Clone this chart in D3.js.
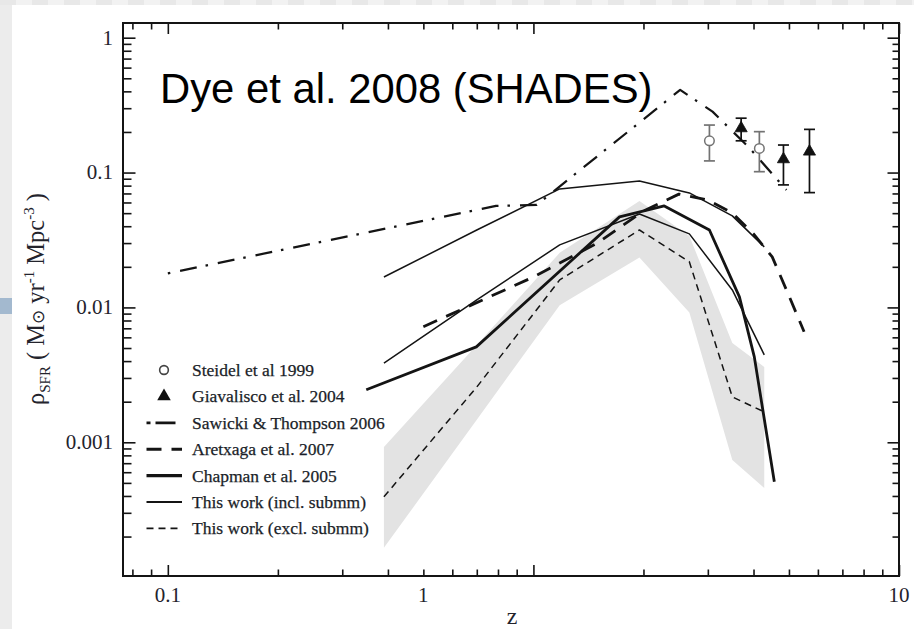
<!DOCTYPE html>
<html>
<head>
<meta charset="utf-8">
<script src="https://cdn.jsdelivr.net/npm/d3@7"></script>
<style>
  body { margin: 0; background: #fff; }
  svg { display: block; }
</style>
</head>
<body>
<svg id="chart" width="914" height="629"></svg>
<script>
// Cosmic star-formation-rate density against redshift (SHADES).

// Steidel et al. 1999 (open circles, with error bars)
const zSteidel       = [3.03, 4.15];
const sfrSteidel     = [0.172, 0.151];
const sfrSteidelHi   = [0.225, 0.201];
const sfrSteidelLo   = [0.122, 0.1015];

// Giavalisco et al. 2004 (filled triangles, with error bars)
const zGiavalisco     = [3.70, 4.83, 5.69];
const sfrGiavalisco   = [0.213, 0.1255, 0.143];
const sfrGiavaliscoHi = [0.253, 0.160, 0.209];
const sfrGiavaliscoLo = [0.172, 0.081, 0.071];

// Sawicki & Thompson 2006
const zSawicki   = [0.1, 0.79, 1.02, 2.52, 3.09, 3.90, 4.92];
const sfrSawicki = [0.0179, 0.0566, 0.0575, 0.410, 0.283, 0.152, 0.0743];

// Aretxaga et al. 2007
const zAretxaga   = [0.5, 1, 1.5, 2, 2.5, 3, 3.5, 4, 4.5, 5, 5.5];
const sfrAretxaga = [0.0072, 0.0168, 0.0301, 0.0519, 0.0692, 0.0626, 0.0502, 0.0351, 0.0237, 0.0122, 0.0066];

// Chapman et al. 2005
const zChapman   = [0.349, 0.698, 1.72, 2.28, 3.03, 3.66, 4.02, 4.56];
const sfrChapman = [0.00245, 0.0051, 0.0469, 0.0566, 0.0375, 0.01196, 0.0043, 0.00051];

// This work: redshift bins
const zThisWork     = [0.39, 0.70, 1.18, 1.95, 2.67, 3.50, 4.28];
const sfrInclHigh   = [0.0168, 0.0375, 0.0756, 0.0866, 0.0706, 0.0477, 0.0281];
const sfrInclLow    = [0.00386, 0.01137, 0.0291, 0.0493, 0.0351, 0.01348, 0.00445];
const sfrExcl       = [0.000394, 0.00257, 0.0160, 0.0375, 0.0218, 0.00217, 0.00168];
const sfrExclUpper  = [0.000924, 0.00527, 0.0254, 0.0616, 0.0339, 0.00545, 0.00362];
const sfrExclLower  = [0.000165, 0.00147, 0.0104, 0.0235, 0.00918, 0.00074, 0.000459];

// Axis labels
const yTickValues   = [1, 0.1, 0.01, 0.001];
const yTickText     = ["1", "0.1", "0.01", "0.001"];
const xTickLabelAt  = [0.1, 0.5, 10];
const xTickText     = ["0.1", "1", "10"];

const legendLabels = [
  "Steidel et al 1999",
  "Giavalisco et al. 2004",
  "Sawicki & Thompson 2006",
  "Aretxaga et al. 2007",
  "Chapman et al. 2005",
  "This work (incl. submm)",
  "This work (excl. submm)"
];
const titleText = "Dye et al. 2008 (SHADES)";

// ---------------------------------------------------------------
const svg = d3.select("#chart");
const W = 914, H = 629;
const plot = { left: 123, right: 899, top: 23, bottom: 576 };
const ink = "#141414";
const serif = "'Liberation Serif','Times New Roman',serif";

const x = d3.scaleLog().domain([0.0754, 10]).range([plot.left, plot.right]);
const y = d3.scaleLog().domain([1.02e-4, 1.285]).range([plot.bottom, plot.top]);

// page surround
svg.append("rect").attr("width", W).attr("height", H).attr("fill", "#fff");
svg.append("rect").attr("x", 0).attr("y", 0).attr("width", 12).attr("height", H).attr("fill", "#ececec");
svg.append("g").selectAll("rect").data(d3.range(0, W, 16)).join("rect")
  .attr("x", d => d).attr("y", 0).attr("width", 16).attr("height", 5)
  .attr("fill", (d, i) => i % 2 ? "#f2f2f2" : "#e8e8e8");
svg.append("rect").attr("x", 0).attr("y", 298).attr("width", 12).attr("height", 16).attr("fill", "#a3b9cf");

// clip for data marks
svg.append("clipPath").attr("id", "plotClip").append("rect")
  .attr("x", plot.left).attr("y", plot.top)
  .attr("width", plot.right - plot.left).attr("height", plot.bottom - plot.top);
const data = svg.append("g").attr("clip-path", "url(#plotClip)");

const zip = (zs, vs) => zs.map((z, i) => [z, vs[i]]);
const line = d3.line().x(d => x(d[0])).y(d => y(d[1]));

// uncertainty band of the excl. submm estimate
const band = zThisWork.map((z, i) => ({ z, lo: sfrExclLower[i], hi: sfrExclUpper[i] }));
data.append("path")
  .attr("d", d3.area().x(d => x(d.z)).y0(d => y(d.lo)).y1(d => y(d.hi))(band))
  .attr("fill", "#e3e3e3");

const styles = {
  sawicki:  { w: 2.2, dash: "2.5,10,17,9" },
  aretxaga: { w: 2.8, dash: "15,10" },
  chapman:  { w: 2.8, dash: null },
  incl:     { w: 1.5, dash: null },
  excl:     { w: 1.5, dash: "7,5" }
};

const series = [
  { key: "excl",     pts: zip(zThisWork, sfrExcl) },
  { key: "incl",     pts: zip(zThisWork, sfrInclLow) },
  { key: "incl",     pts: zip(zThisWork, sfrInclHigh) },
  { key: "chapman",  pts: zip(zChapman, sfrChapman) },
  { key: "aretxaga", pts: zip(zAretxaga, sfrAretxaga) },
  { key: "sawicki",  pts: zip(zSawicki, sfrSawicki) }
];

data.selectAll("path.series").data(series).join("path")
  .attr("class", "series")
  .attr("d", d => line(d.pts))
  .attr("fill", "none")
  .attr("stroke", ink)
  .attr("stroke-width", d => styles[d.key].w)
  .attr("stroke-dasharray", d => styles[d.key].dash)
  .attr("stroke-linejoin", "round");

// error-bar points
function errorPoints(zs, v, hi, lo, color, symbolType, filled) {
  const pts = zs.map((z, i) => ({ z, v: v[i], hi: hi[i], lo: lo[i] }));
  const g = data.append("g");
  const capW = 5.5;
  g.selectAll("line.bar").data(pts).join("line")
    .attr("x1", d => x(d.z)).attr("x2", d => x(d.z))
    .attr("y1", d => y(d.hi)).attr("y2", d => y(d.lo))
    .attr("stroke", color).attr("stroke-width", 1.7);
  g.selectAll("line.capH").data(pts).join("line")
    .attr("x1", d => x(d.z) - capW).attr("x2", d => x(d.z) + capW)
    .attr("y1", d => y(d.hi)).attr("y2", d => y(d.hi))
    .attr("stroke", color).attr("stroke-width", 1.7);
  g.selectAll("line.capL").data(pts).join("line")
    .attr("x1", d => x(d.z) - capW).attr("x2", d => x(d.z) + capW)
    .attr("y1", d => y(d.lo)).attr("y2", d => y(d.lo))
    .attr("stroke", color).attr("stroke-width", 1.7);
  g.selectAll("path.sym").data(pts).join("path")
    .attr("transform", d => `translate(${x(d.z)},${y(d.v)})`)
    .attr("d", d3.symbol().type(symbolType).size(symbolType === d3.symbolCircle ? 72 : 64))
    .attr("fill", filled ? color : "#fff")
    .attr("stroke", color).attr("stroke-width", filled ? 0.8 : 1.5);
}
errorPoints(zSteidel, sfrSteidel, sfrSteidelHi, sfrSteidelLo, "#737373", d3.symbolCircle, false);
errorPoints(zGiavalisco, sfrGiavalisco, sfrGiavaliscoHi, sfrGiavaliscoLo, "#111", d3.symbolTriangle, true);

// ---------------------------------------------------------------
// axes: inward ticks on all four sides, major at each decade
const isMajor = v => Math.abs(Math.log10(v) - Math.round(Math.log10(v))) < 1e-9;
const xTicks = x.ticks();
const yTicks = y.ticks();

function tickSide(axisGen, ticks, translate, setEnd) {
  const g = svg.append("g").attr("transform", translate)
    .call(axisGen.tickValues(ticks).tickFormat("").tickSizeOuter(0));
  g.select(".domain").remove();
  g.selectAll(".tick text").remove();
  g.selectAll(".tick line").attr("stroke", ink).attr("stroke-width", 1.6).each(function (d) {
    setEnd(d3.select(this), isMajor(d));
  });
}
tickSide(d3.axisBottom(x), xTicks, `translate(0,${plot.bottom})`,
  (l, M) => l.attr("y2", -(M ? 11 : 6.5)));
tickSide(d3.axisTop(x), xTicks, `translate(0,${plot.top})`,
  (l, M) => l.attr("y2", M ? 11 : 6.5));
tickSide(d3.axisLeft(y), yTicks, `translate(${plot.left},0)`,
  (l, M) => l.attr("x2", M ? 12.5 : 8.5));
tickSide(d3.axisRight(y), yTicks, `translate(${plot.right},0)`,
  (l, M) => l.attr("x2", -(M ? 11.5 : 6.5)));

svg.append("rect")
  .attr("x", plot.left).attr("y", plot.top)
  .attr("width", plot.right - plot.left).attr("height", plot.bottom - plot.top)
  .attr("fill", "none").attr("stroke", ink).attr("stroke-width", 2);

// tick labels
const labelColor = "#23232c";
svg.append("g").selectAll("text").data(xTickLabelAt).join("text")
  .attr("x", d => x(d)).attr("y", 602)
  .attr("text-anchor", "middle")
  .attr("font-family", serif).attr("font-size", 21).attr("fill", labelColor)
  .text((d, i) => xTickText[i]);

svg.append("g").selectAll("text").data(yTickValues).join("text")
  .attr("x", 113).attr("y", d => y(d)).attr("dy", "0.33em")
  .attr("text-anchor", "end")
  .attr("font-family", serif).attr("font-size", 21).attr("fill", labelColor)
  .text((d, i) => yTickText[i]);

// axis titles
svg.append("text")
  .attr("x", 512).attr("y", 624).attr("text-anchor", "middle")
  .attr("font-family", serif).attr("font-size", 24).attr("fill", labelColor)
  .text("z");

const yTitle = svg.append("text")
  .attr("transform", "translate(44,299) rotate(-90)")
  .attr("text-anchor", "middle")
  .attr("font-family", serif).attr("font-size", 24.5).attr("fill", labelColor);
yTitle.append("tspan").text("ρ");
yTitle.append("tspan").attr("font-size", 15).attr("dy", 6).text("SFR");
yTitle.append("tspan").attr("dy", -6).text(" ( M");
yTitle.append("tspan").attr("font-size", 17).text("⊙");
yTitle.append("tspan").text(" yr");
yTitle.append("tspan").attr("font-size", 15).attr("dy", -10).text("-1");
yTitle.append("tspan").attr("dy", 10).text("  Mpc");
yTitle.append("tspan").attr("font-size", 15).attr("dy", -10).text("-3");
yTitle.append("tspan").attr("dy", 10).text(" )");

// chart title
svg.append("text")
  .attr("x", 160).attr("y", 103)
  .attr("font-family", "'Liberation Sans',Arial,sans-serif")
  .attr("font-size", 41.8).attr("fill", "#000")
  .text(titleText);

// ---------------------------------------------------------------
// legend
const legend = svg.append("g");
const legendKeys = ["steidel", "giavalisco", "sawicki", "aretxaga", "chapman", "incl", "excl"];
const rowY = i => 370 + i * 26.4;
const rows = legend.selectAll("g").data(legendLabels).join("g")
  .attr("transform", (d, i) => `translate(0,${rowY(i)})`);
rows.append("text")
  .attr("x", 192).attr("y", 6)
  .attr("font-family", serif).attr("font-size", 17.5).attr("fill", "#1a1e28")
  .attr("stroke", "#1a1e28").attr("stroke-width", 0.25)
  .text(d => d);
rows.each(function (d, i) {
  const g = d3.select(this);
  const key = legendKeys[i];
  if (key === "steidel") {
    g.append("path").attr("transform", "translate(164,0)")
      .attr("d", d3.symbol().type(d3.symbolCircle).size(60))
      .attr("fill", "#fff").attr("stroke", "#444").attr("stroke-width", 1.6);
  } else if (key === "giavalisco") {
    g.append("path").attr("transform", "translate(164,0)")
      .attr("d", d3.symbol().type(d3.symbolTriangle).size(80))
      .attr("fill", "#111");
  } else {
    g.append("line").attr("x1", 146.5).attr("x2", 182).attr("y1", 0).attr("y2", 0)
      .attr("stroke", ink)
      .attr("stroke-width", styles[key].w + (key === "sawicki" ? 0.6 : 0.3))
      .attr("stroke-dasharray", key === "sawicki" ? "4,5,20,10" : styles[key].dash);
  }
});
</script>
</body>
</html>
